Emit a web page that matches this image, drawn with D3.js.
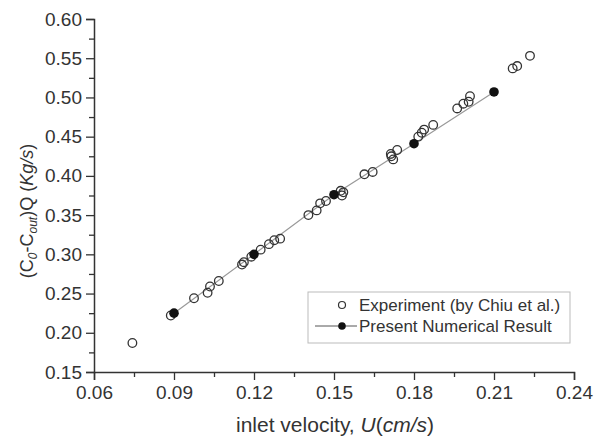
<!DOCTYPE html>
<html lang="en">
  <head>
    <meta charset='utf-8'>
    <script src='https://d3js.org/d3.v7.min.js'></script>
    <title>Inlet velocity chart</title>
    <style>
      body { margin: 0px; background: #fff; overflow: hidden; }
      svg { display: block; }
      text { font-family: 'Liberation Sans', Arial, sans-serif; fill: #333; }
      .tick text { font-size: 19px; }
      .axis-label { font-size: 21px; }
      .y-label { font-size: 18px; }
      .legend-label { font-size: 17px; }
    </style>
  </head>
  <body>
    <div id='viz'></div>
    <script>
      // experiment points (Chiu et al.)
      const expU = [0.0744, 0.0888, 0.0975, 0.1026, 0.1035, 0.1068, 0.1155, 0.1162, 0.1190,
        0.1225, 0.1256, 0.1276, 0.1298, 0.1404, 0.1435, 0.1448, 0.1470, 0.1525, 0.1530,
        0.1535, 0.1614, 0.1645, 0.1713, 0.1715, 0.1722, 0.1737, 0.1816, 0.1829, 0.1838,
        0.1872, 0.1962, 0.1985, 0.2005, 0.2010, 0.2170, 0.2187, 0.2235];
      const expQ = [0.187, 0.222, 0.244, 0.251, 0.259, 0.266, 0.287, 0.290, 0.297,
        0.306, 0.313, 0.318, 0.320, 0.350, 0.356, 0.365, 0.368, 0.381, 0.375,
        0.379, 0.402, 0.405, 0.428, 0.425, 0.421, 0.433, 0.450, 0.455, 0.459,
        0.465, 0.486, 0.492, 0.4945, 0.5015, 0.537, 0.540, 0.553];

      // numerical result
      const numU = [0.09, 0.12, 0.15, 0.18, 0.21];
      const numQ = [0.225, 0.300, 0.376, 0.441, 0.507];

      const xTicks = [0.06, 0.09, 0.12, 0.15, 0.18, 0.21, 0.24];
      const yTicks = [0.15, 0.20, 0.25, 0.30, 0.35, 0.40, 0.45, 0.50, 0.55, 0.60];
      const legendLabels = ['Experiment (by Chiu et al.)', 'Present Numerical Result'];

      const width = 594, height = 441;
      const margin = { left: 94, right: 20, top: 19, bottom: 69 };
      const innerWidth = width - margin.left - margin.right;
      const innerHeight = height - margin.top - margin.bottom;

      const svg = d3.select('#viz').append('svg')
        .attr('width', width)
        .attr('height', height);

      const g = svg.append('g')
        .attr('transform', `translate(${margin.left},${margin.top})`);

      const xScale = d3.scaleLinear().domain([0.06, 0.24]).range([0, innerWidth]);
      const yScale = d3.scaleLinear().domain([0.15, 0.60]).range([innerHeight, 0]);

      // minor ticks halfway between majors
      const xMinor = d3.range(xTicks.length - 1).map(i => (xTicks[i] + xTicks[i + 1]) / 2);
      const yMinor = d3.range(yTicks.length - 1).map(i => (yTicks[i] + yTicks[i + 1]) / 2);

      const xMinorG = g.append('g')
        .attr('transform', `translate(0,${innerHeight})`)
        .call(d3.axisBottom(xScale).tickValues(xMinor).tickSize(5).tickFormat(''));
      const yMinorG = g.append('g')
        .call(d3.axisLeft(yScale).tickValues(yMinor).tickSize(5).tickFormat(''));
      [xMinorG, yMinorG].forEach(a => {
        a.select('.domain').remove();
        a.selectAll('.tick text').remove();
      });

      const xAxisG = g.append('g')
        .attr('transform', `translate(0,${innerHeight})`)
        .call(d3.axisBottom(xScale).tickValues(xTicks).tickSize(8).tickPadding(6)
          .tickFormat(d3.format('.2f')));
      const yAxisG = g.append('g')
        .call(d3.axisLeft(yScale).tickValues(yTicks).tickSize(8).tickPadding(4)
          .tickFormat(d3.format('.2f')));

      g.selectAll('.domain').attr('stroke', '#333').attr('stroke-width', 1.5);
      g.selectAll('.tick line').attr('stroke', '#333').attr('stroke-width', 1.3);

      // axis labels
      g.append('text')
        .attr('class', 'axis-label')
        .attr('x', 241)
        .attr('y', innerHeight + 60)
        .attr('text-anchor', 'middle')
        .html('inlet velocity, <tspan font-style="italic">U</tspan>(<tspan font-style="italic">cm/s</tspan>)');

      const yl = svg.append('text')
        .attr('class', 'y-label')
        .attr('transform', 'translate(33,211) rotate(-90)')
        .attr('text-anchor', 'middle');
      yl.append('tspan').text('(C');
      yl.append('tspan').attr('font-size', 12).attr('dy', 4).attr('font-style', 'italic').text('0');
      yl.append('tspan').attr('dy', -4).text('-C');
      yl.append('tspan').attr('font-size', 12).attr('dy', 4).attr('font-style', 'italic').text('out');
      yl.append('tspan').attr('dy', -4).text(')Q (');
      yl.append('tspan').attr('font-style', 'italic').text('Kg/s');
      yl.append('tspan').text(')');

      // numerical line
      const numData = numU.map((u, i) => ({ u, q: numQ[i] }));
      const expData = expU.map((u, i) => ({ u, q: expQ[i] }));

      g.append('path')
        .datum(numData)
        .attr('fill', 'none')
        .attr('stroke', '#999')
        .attr('stroke-width', 1.2)
        .attr('d', d3.line().x(d => xScale(d.u)).y(d => yScale(d.q)));

      g.selectAll('circle.exp').data(expData).enter().append('circle')
        .attr('class', 'exp')
        .attr('cx', d => xScale(d.u))
        .attr('cy', d => yScale(d.q))
        .attr('r', 4.3)
        .attr('fill', 'none')
        .attr('stroke', '#333')
        .attr('stroke-width', 1.3);

      g.selectAll('circle.num').data(numData).enter().append('circle')
        .attr('class', 'num')
        .attr('cx', d => xScale(d.u))
        .attr('cy', d => yScale(d.q))
        .attr('r', 4.8)
        .attr('fill', '#111');

      // legend
      const lg = svg.append('g').attr('transform', 'translate(308,292)');
      lg.append('rect')
        .attr('width', 262).attr('height', 51)
        .attr('fill', '#fff').attr('stroke', '#bbb').attr('stroke-width', 1);
      lg.append('circle').attr('cx', 34).attr('cy', 13).attr('r', 3.5)
        .attr('fill', 'none').attr('stroke', '#333').attr('stroke-width', 1.2);
      lg.append('line').attr('x1', 7).attr('x2', 49).attr('y1', 34).attr('y2', 34)
        .attr('stroke', '#555').attr('stroke-width', 1);
      lg.append('circle').attr('cx', 34).attr('cy', 34).attr('r', 3.8).attr('fill', '#111');
      lg.selectAll('text.legend-label').data(legendLabels).enter().append('text')
        .attr('class', 'legend-label')
        .attr('x', 51)
        .attr('y', (d, i) => 13 + i * 21)
        .attr('dy', '0.35em')
        .text(d => d);
    </script>
  </body>
</html>
